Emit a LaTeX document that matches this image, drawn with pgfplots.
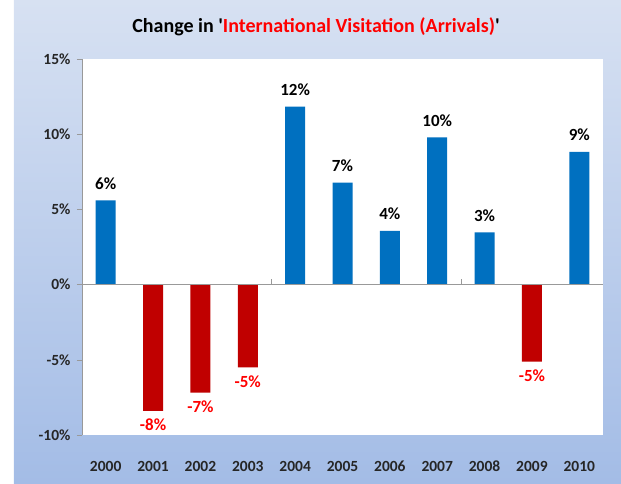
\documentclass[border=0pt]{standalone}
\usepackage{pgfplots}
\pgfplotsset{compat=1.18}
\usepackage{fontspec}
\setmainfont{Carlito}
\newfontfamily\titlefont{Carlito}
\definecolor{barblue}{HTML}{0070C0}
\definecolor{barred}{HTML}{C00000}
\definecolor{bgtop}{HTML}{D7E1F2}
\definecolor{bgbot}{HTML}{A3BCE6}
\definecolor{labred}{HTML}{FF0000}
\pgfplotstableread{
x y lab
0 5.6 6\%
4 11.83 12\%
5 6.78 7\%
6 3.58 4\%
7 9.79 10\%
8 3.47 3\%
10 8.82 9\%
}\pos
\pgfplotstableread{
x y lab
1 -8.4 -8\%
2 -7.19 -7\%
3 -5.5 -5\%
9 -5.12 -5\%
}\neg
\begin{document}
\begin{tikzpicture}[x=1pt,y=1pt]
\useasboundingbox (-82,-49) rectangle (539,435);
\fill[top color=bgtop, bottom color=bgbot] (-68,-49) rectangle (539,435);
\begin{axis}[
  at={(0,0)}, anchor=south west,
  scale only axis, width=521pt, height=376pt,
  xmin=-0.5, xmax=10.5, ymin=-10, ymax=15,
  axis background/.style={fill=white},
  axis x line=bottom, axis y line=left,
  x axis line style={draw=none},
  y axis line style={draw=gray!80, -},
  xtick={0,...,10},
  xticklabels={2000,2001,2002,2003,2004,2005,2006,2007,2008,2009,2010},
  xtick style={draw=none},
  ytick={-10,-5,0,5,10,15},
  yticklabels={-10\%,-5\%,0\%,5\%,10\%,15\%},
  ytick style={draw=gray!80},
  major tick length=5pt, tick align=outside,
  tick label style={font=\fontsize{15.5}{17}\selectfont\bfseries, text=black!85},
  xticklabel style={anchor=base, yshift=-32pt},
  yticklabel style={xshift=-3pt},
  ybar, bar width=20pt,
  clip=false,
  nodes near coords,
  point meta=explicit symbolic,
  every node near coord/.append style={font=\fontsize{17}{19}\selectfont\bfseries},
]
\addplot[fill=barblue, draw=none, bar shift=0pt,
  every node near coord/.append style={text=black, anchor=base, yshift=11pt}]
  table[x=x, y=y, meta=lab] {\pos};
\addplot[fill=barred, draw=none, bar shift=0pt,
  every node near coord/.append style={text=labred, anchor=base, yshift=-20pt}]
  table[x=x, y=y, meta=lab] {\neg};
\draw[gray!80] (axis cs:-0.5,0) -- (axis cs:10.5,0);
\draw[gray!80] (axis cs:3.5,0) -- (axis cs:3.5,0.35);
\draw[gray!80] (axis cs:7.5,0) -- (axis cs:7.5,0.35);
\end{axis}
\node[font=\titlefont\fontsize{20}{23}\selectfont\bfseries] at (234,408)
  {Change in '\textcolor{labred}{International Visitation (Arrivals)}'};
\end{tikzpicture}
\end{document}
